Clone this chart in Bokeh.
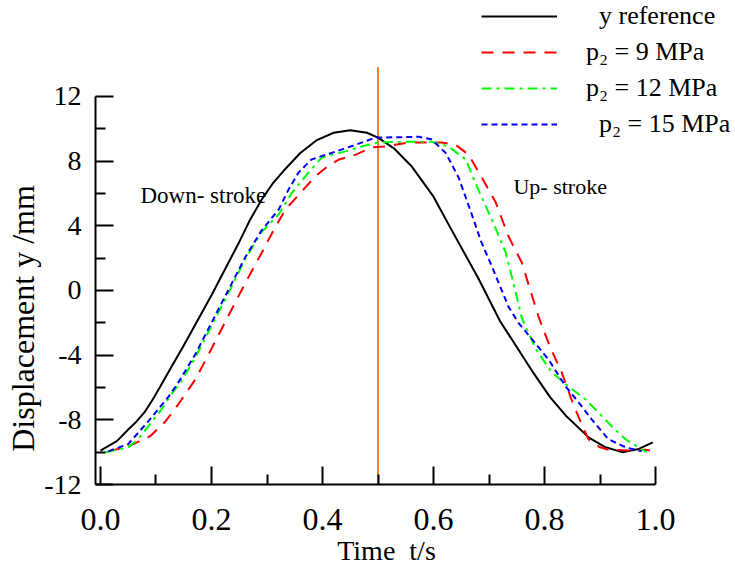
from bokeh.plotting import figure
from bokeh.models import (Range1d, FixedTicker, NumeralTickFormatter, Legend,
                          LegendItem, Label)
from bokeh.embed import file_html
from bokeh.resources import INLINE

# ---------------- data ----------------
t_ref = [0.0, 0.03, 0.05, 0.065, 0.08, 0.095, 0.11, 0.13, 0.15, 0.20, 0.25, 0.27,
         0.29, 0.31, 0.33, 0.36, 0.39, 0.42, 0.45, 0.48, 0.50, 0.53, 0.56, 0.60,
         0.63, 0.68, 0.72, 0.78, 0.81, 0.84, 0.88, 0.91, 0.94, 0.97, 0.995]
y_ref = [-9.9, -9.3, -8.6, -8.1, -7.5, -6.7, -5.8, -4.6, -3.4, -0.3, 3.0, 4.4,
         5.6, 6.6, 7.4, 8.5, 9.3, 9.75, 9.9, 9.75, 9.45, 8.75, 7.7, 5.8,
         3.9, 0.8, -1.9, -5.1, -6.6, -7.8, -9.1, -9.7, -10.0, -9.8, -9.4]

t_p9 = [0.014, 0.05, 0.09, 0.117, 0.14, 0.171, 0.20, 0.23, 0.26, 0.29, 0.31, 0.333,
        0.362, 0.387, 0.41, 0.43, 0.46, 0.49, 0.513, 0.555, 0.614, 0.64, 0.663,
        0.686, 0.712, 0.735, 0.759, 0.789, 0.81, 0.831, 0.847, 0.861, 0.879, 0.90,
        0.915, 0.95, 0.982, 0.99]
y_p9 = [-9.95, -9.65, -9.0, -8.1, -7.05, -5.5, -3.6, -1.6, 0.4, 2.3, 3.6, 5.0,
        6.1, 7.05, 7.7, 8.1, 8.4, 8.85, 8.9, 9.15, 9.15, 9.0, 8.4,
        7.05, 5.45, 3.35, 1.73, -1.6, -3.5, -5.07, -6.6, -7.8, -9.2, -9.7,
        -9.85, -9.9, -9.85, -9.9]

t_p12 = [0.009, 0.05, 0.068, 0.086, 0.11, 0.128, 0.146, 0.17, 0.20, 0.23, 0.26, 0.29,
         0.321, 0.345, 0.375, 0.398, 0.441, 0.47, 0.50, 0.555, 0.596, 0.627, 0.658,
         0.681, 0.705, 0.73, 0.748, 0.759, 0.784, 0.813, 0.843, 0.874, 0.897, 0.921,
         0.946, 0.969, 0.984]
y_p12 = [-10.0, -9.7, -9.2, -8.4, -7.35, -6.4, -5.6, -4.2, -2.2, -0.2, 1.9, 3.6,
         4.7, 6.05, 7.3, 8.2, 8.6, 8.9, 9.15, 9.2, 9.2, 8.9, 8.1,
         6.2, 4.4, 2.35, -0.1, -1.7, -3.6, -5.07, -5.93, -6.74, -7.54, -8.4,
         -9.2, -9.7, -10.0]

t_p15 = [0.014, 0.05, 0.068, 0.086, 0.104, 0.123, 0.14, 0.17, 0.20, 0.23, 0.26, 0.29,
         0.321, 0.339, 0.357, 0.38, 0.416, 0.459, 0.495, 0.573, 0.596, 0.622, 0.645,
         0.668, 0.686, 0.705, 0.735, 0.753, 0.777, 0.807, 0.838, 0.861, 0.885, 0.915,
         0.946, 0.975]
y_p15 = [-9.95, -9.5, -8.8, -8.1, -7.35, -6.55, -5.7, -4.0, -2.0, 0.0, 2.0, 3.7,
         5.0, 6.25, 7.3, 8.1, 8.5, 9.0, 9.45, 9.5, 9.35, 8.5, 7.0,
         4.8, 3.0, 1.5, -1.0, -2.0, -3.0, -4.26, -5.93, -6.9, -7.97, -9.2,
         -9.7, -9.95]

switch_time = [0.5]
switch_low = [-12.0]
switch_high = [13.8]
x_major = [0.0, 0.2, 0.4, 0.6, 0.8, 1.0]
x_minor = [0.1, 0.3, 0.5, 0.7, 0.9]
y_major = [-12, -8, -4, 0, 4, 8, 12]
y_minor = [-10, -6, -2, 2, 6, 10]
NB = "\u00a0"
legend_labels = [NB * 2 + "y reference", "p\u2082 = 9 MPa", "p\u2082 = 12 MPa",
                 NB * 2 + "p\u2082 = 15 MPa"]
x_title = "Time" + NB * 2 + "t/s" + NB * 8
y_title = "Displacement y /mm" + NB * 19

FONT = "Liberation Serif"

p = figure(frame_width=638, frame_height=484, output_backend="svg",
           toolbar_location=None,
           x_range=Range1d(-0.009, 1.1405), y_range=Range1d(-12, 17.93),
           min_border_left=95, min_border_right=0, min_border_top=0,
           min_border_bottom=0)
p.outline_line_color = None
p.grid.visible = False
p.background_fill_color = "white"
p.border_fill_color = "white"

# axes
for ax in (p.xaxis[0], p.yaxis[0]):
    ax.major_tick_in = 18
    ax.major_tick_out = 0
    ax.minor_tick_in = 10
    ax.minor_tick_out = 0
    ax.axis_line_width = 2
    ax.major_tick_line_width = 2
    ax.minor_tick_line_width = 2
    ax.axis_line_color = "black"
    ax.major_tick_line_color = "black"
    ax.minor_tick_line_color = "black"
    ax.major_label_text_font = FONT
    ax.major_label_text_color = "black"
    ax.axis_label_text_font = FONT
    ax.axis_label_text_font_style = "normal"
    ax.axis_label_text_color = "black"

p.xaxis.ticker = FixedTicker(ticks=x_major, minor_ticks=x_minor)
p.xaxis.formatter = NumeralTickFormatter(format="0.0")
p.xaxis.major_label_text_font_size = "32px"
p.xaxis.major_label_standoff = 24
p.xaxis.axis_label = x_title
p.xaxis.axis_label_text_font_size = "28px"
p.xaxis.axis_label_standoff = 2
p.xaxis.bounds = (-0.009, 1.0)

p.yaxis.ticker = FixedTicker(ticks=y_major, minor_ticks=y_minor)
p.yaxis.formatter = NumeralTickFormatter(format="0")
p.yaxis.major_label_text_font_size = "28px"
p.yaxis.major_label_standoff = 14
p.yaxis.axis_label = y_title
p.yaxis.axis_label_text_font_size = "32px"
p.yaxis.axis_label_standoff = 0
p.yaxis.bounds = (-12, 12)

# stroke switch line
p.segment(x0=switch_time, y0=switch_low, x1=switch_time, y1=switch_high,
          line_color="#F08224", line_width=2)

r_ref = p.line(t_ref, y_ref, line_color="black", line_width=2)
r9 = p.line(t_p9, y_p9, line_color="#FF0000", line_width=2, line_dash="12 9")
r12 = p.line(t_p12, y_p12, line_color="#00FF00", line_width=2, line_dash="10 5 3 5")
r15 = p.line(t_p15, y_p15, line_color="#0000FF", line_width=2, line_dash="6 4")

legend = Legend(items=[LegendItem(label=l, renderers=[r])
                       for l, r in zip(legend_labels, [r_ref, r9, r12, r15])],
                location=(386, 345), glyph_width=76, glyph_height=30,
                label_height=30, label_standoff=29, spacing=6, padding=0, margin=0,
                label_text_font=FONT, label_text_font_size="26px",
                label_text_color="black",
                border_line_alpha=0, background_fill_alpha=0)
p.add_layout(legend)

p.add_layout(Label(x=0.072, y=5.9, text="Down- stroke", text_font=FONT,
                   text_font_size="23px", text_baseline="middle", text_align="left",
                   text_color="black"))
p.add_layout(Label(x=0.744, y=6.4, text="Up- stroke", text_font=FONT,
                   text_font_size="22px", text_baseline="middle", text_align="left",
                   text_color="black"))

open("out.html", "w").write(file_html(p, INLINE))
